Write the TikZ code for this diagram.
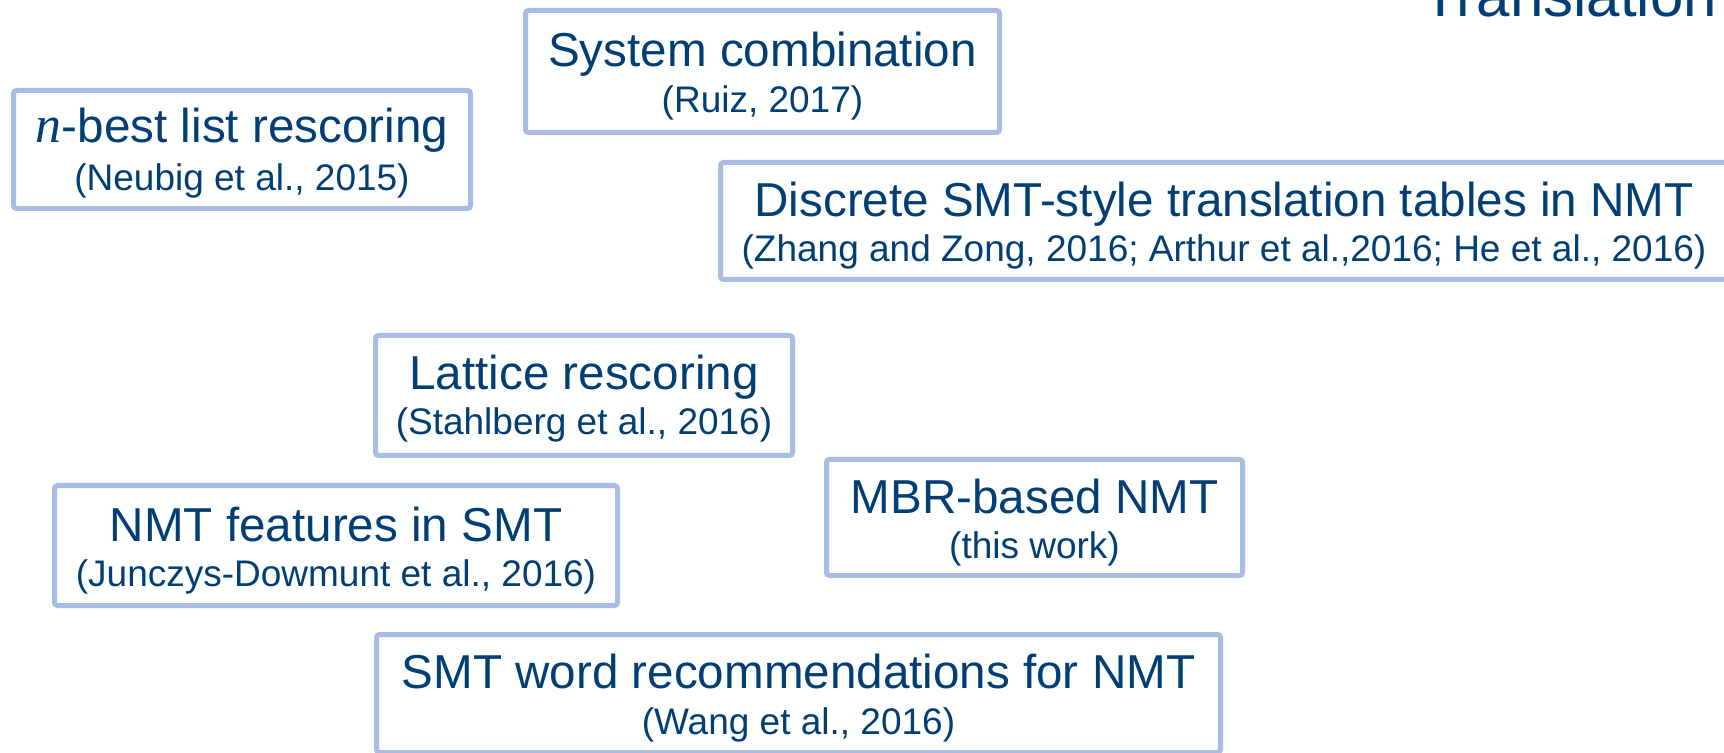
\documentclass[tikz,border=0pt]{standalone}
\usepackage{fontspec}
\setmainfont{Liberation Sans}
\newfontfamily\varfont{Liberation Serif}
\definecolor{inkblue}{RGB}{0,62,116}
\definecolor{frameblue}{RGB}{170,188,228}
\begin{document}
\begin{tikzpicture}[x=0.5pt,y=-0.5pt,
  card/.style={draw=frameblue, line width=2.5pt, rounded corners=1.5pt, fill=white, inner sep=0pt},
  headline/.style={text=inkblue, font=\fontsize{23.8}{28}\selectfont, anchor=base, inner sep=0pt},
  cite/.style={text=inkblue, font=\fontsize{18.5}{22}\selectfont, anchor=base, inner sep=0pt}]
\useasboundingbox (0,0) rectangle (1724,753);
\clip (0,0) rectangle (1724,753);
\fill[white] (0,0) rectangle (1724,753);

% slide heading, partly off the top edge
\node[anchor=base west, inner sep=0pt, text=inkblue, font=\fontsize{30}{32}\selectfont] (heading) at (1422,17) {Translation};

% n-best list rescoring
\node[card, minimum width=228.5pt, minimum height=59pt] (nbest) at (242,149.5) {};
\node[headline] (nbestT) at (242,143) {{\varfont\itshape\fontsize{26}{28}\selectfont n}-best list rescoring};
\node[cite] (nbestC) at (242,191) {(Neubig et al., 2015)};

% system combination
\node[card, minimum width=237pt, minimum height=61pt] (syscomb) at (762.5,71.5) {};
\node[headline] (syscombT) at (762.5,67) {System combination};
\node[cite] (syscombC) at (762.5,113) {(Ruiz, 2017)};

% translation tables
\node[card, minimum width=503.5pt, minimum height=58.5pt] (tables) at (1224,221) {};
\node[headline] (tablesT) at (1224,217) {Discrete SMT-style translation tables in NMT};
\node[cite] (tablesC) at (1224,262) {(Zhang and Zong, 2016; Arthur et al.,2016; He et al., 2016)};

% lattice rescoring
\node[card, minimum width=208.5pt, minimum height=60pt] (lattice) at (584,395.5) {};
\node[headline] (latticeT) at (584,390) {Lattice rescoring};
\node[cite] (latticeC) at (584,435) {(Stahlberg et al., 2016)};

% NMT features in SMT
\node[card, minimum width=281.5pt, minimum height=60pt] (features) at (336,545.5) {};
\node[headline] (featuresT) at (336,541) {NMT features in SMT};
\node[cite] (featuresC) at (336,586.5) {(Junczys-Dowmunt et al., 2016)};

% MBR-based NMT
\node[card, minimum width=208pt, minimum height=58pt] (mbr) at (1034.5,517.5) {};
\node[headline] (mbrT) at (1034.5,513) {MBR-based NMT};
\node[cite] (mbrC) at (1034.5,558) {(this work)};

% word recommendations
\node[card, minimum width=422pt, minimum height=59pt] (words) at (798.5,693.5) {};
\node[headline] (wordsT) at (798.5,688) {SMT word recommendations for NMT};
\node[cite] (wordsC) at (798.5,734) {(Wang et al., 2016)};
\end{tikzpicture}
\end{document}
